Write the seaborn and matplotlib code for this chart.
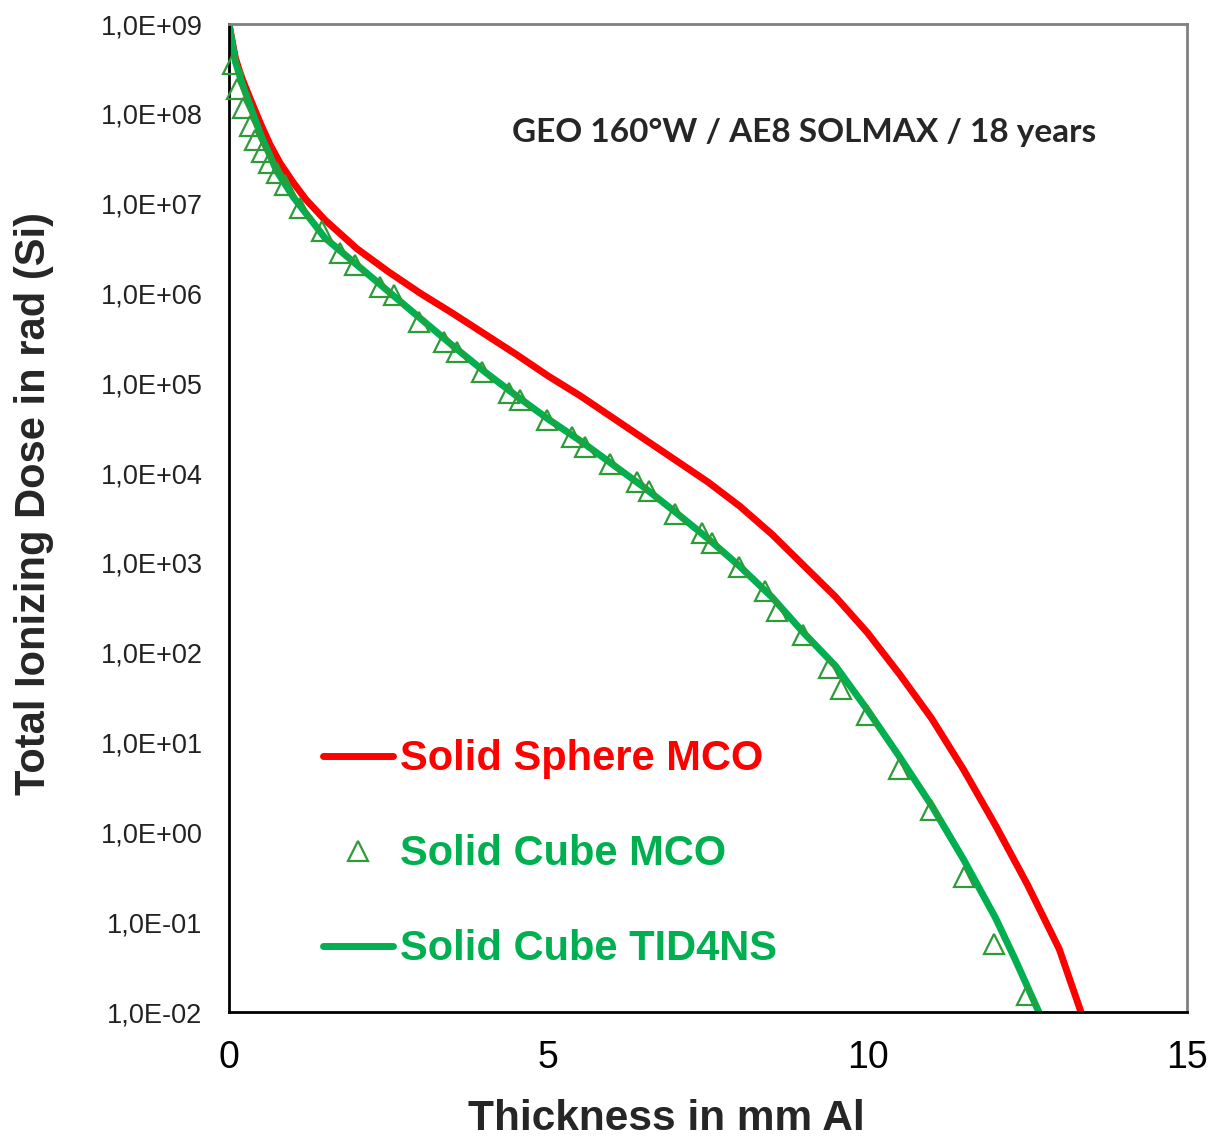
import numpy as np
import pandas as pd
import matplotlib
matplotlib.use('Agg')
import matplotlib.pyplot as plt
import matplotlib.ticker as mticker
from matplotlib.lines import Line2D
import seaborn as sns

# Dose-depth curves (thickness in mm Al, dose as log10 of rad(Si))
sphere_mm = [0.0, 0.1, 0.2, 0.33, 0.5, 0.64, 0.8, 1.0, 1.2, 1.5, 2.0, 2.5, 3.0, 3.5, 4.0, 4.5,
             5.0, 5.5, 6.0, 6.5, 7.0, 7.5, 8.0, 8.5, 9.0, 9.5, 10.0, 10.5, 11.0, 11.5, 12.0,
             12.5, 13.0, 13.34]
sphere_log = [9.0, 8.62, 8.40, 8.17, 7.88, 7.66, 7.45, 7.24, 7.05, 6.82, 6.50, 6.24, 6.00, 5.78,
              5.55, 5.32, 5.08, 4.86, 4.62, 4.38, 4.14, 3.90, 3.63, 3.32, 2.97, 2.62, 2.22, 1.76,
              1.27, 0.70, 0.08, -0.58, -1.30, -2.0]

cube_mm = [0.0, 0.1, 0.2, 0.35, 0.5, 0.75, 1.0, 1.5, 2.0, 2.5, 3.0, 3.5, 4.0, 4.5, 5.0, 5.5, 6.0,
           6.5, 7.0, 7.5, 8.0, 8.5, 9.0, 9.5, 10.0, 10.5, 11.0, 11.5, 12.0, 12.3, 12.68]
cube_log = [9.0, 8.58, 8.35, 8.05, 7.76, 7.36, 7.08, 6.62, 6.32, 6.02, 5.72, 5.42, 5.13, 4.86,
            4.60, 4.36, 4.10, 3.84, 3.56, 3.27, 2.96, 2.62, 2.22, 1.85, 1.36, 0.84, 0.30, -0.30,
            -0.95, -1.40, -2.0]

mco_mm = [0.068, 0.12, 0.22, 0.33, 0.41, 0.51, 0.62, 0.75, 0.88, 1.11, 1.45, 1.74, 1.97, 2.37, 2.58,
          2.97, 3.36, 3.57, 3.96, 4.38, 4.56, 4.98, 5.37, 5.58, 5.97, 6.39, 6.58, 6.99, 7.40, 7.57,
          7.98, 8.40, 8.58, 8.98, 9.39, 9.58, 9.99, 10.49, 10.99, 11.51, 11.98, 12.50]
mco_log = [8.56, 8.28, 8.06, 7.86, 7.71, 7.58, 7.45, 7.34, 7.21, 6.95, 6.69, 6.45, 6.32, 6.07, 5.98,
           5.685, 5.46, 5.35, 5.13, 4.89, 4.81, 4.59, 4.40, 4.29, 4.10, 3.90, 3.80, 3.55, 3.33, 3.22,
           2.96, 2.69, 2.46, 2.20, 1.83, 1.60, 1.31, 0.71, 0.25, -0.50, -1.24, -1.81]

x_ticks = [0, 5, 10, 15]

red = '#FF0000'
green = '#00B050'
tri_green = '#2E9B38'

sphere = pd.DataFrame({'mm': sphere_mm, 'dose': [10 ** v for v in sphere_log]})
cube = pd.DataFrame({'mm': cube_mm, 'dose': [10 ** v for v in cube_log]})
mco = pd.DataFrame({'mm': mco_mm, 'dose': [10 ** v for v in mco_log]})

sns.set_style('white')
plt.rcParams['font.family'] = ['Liberation Sans', 'DejaVu Sans']

fig = plt.figure(figsize=(12.19, 11.37), dpi=100)
ax = fig.add_axes([229 / 1219, 125 / 1137, 958 / 1219, 988 / 1137])

sns.lineplot(data=sphere, x='mm', y='dose', color=red, lw=5, ax=ax, sort=False)
sns.lineplot(data=cube, x='mm', y='dose', color=green, lw=5, ax=ax, sort=False)
ax.plot(mco['mm'], mco['dose'], ls='none', marker='^', ms=15, mfc='none',
        mec=tri_green, mew=1.6, clip_on=False, zorder=5)

ax.set_yscale('log')
ax.set_ylim(1e-2, 1e9)
ax.set_xlim(0, 15)
ax.set_xticks(x_ticks)
ax.xaxis.set_minor_locator(mticker.MultipleLocator(1))
ax.yaxis.set_major_locator(mticker.LogLocator(base=10, numticks=20))
ax.yaxis.set_minor_locator(mticker.LogLocator(base=10, subs=np.arange(2, 10), numticks=20))
ax.yaxis.set_minor_formatter(mticker.NullFormatter())


def sci_comma(v, pos):
    e = int(np.floor(np.log10(v) + 1e-9))
    m = v / 10 ** e
    return f'{m:.1f}E{e:+03d}'.replace('.', ',')


ax.yaxis.set_major_formatter(mticker.FuncFormatter(sci_comma))

for side in ['left', 'bottom']:
    ax.spines[side].set_color('black')
    ax.spines[side].set_linewidth(2)
for side in ['top', 'right']:
    ax.spines[side].set_color('#808080')
    ax.spines[side].set_linewidth(2)

ax.tick_params(axis='x', which='major', direction='inout', length=16, width=2,
               labelsize=27, pad=12, colors='black')
ax.tick_params(axis='x', which='minor', direction='in', length=9, width=2)
ax.tick_params(axis='y', which='major', direction='out', length=8, width=2,
               labelsize=19.5, pad=11)
ax.tick_params(axis='y', which='minor', direction='in', length=5, width=1.5)
for lab in ax.get_yticklabels():
    lab.set_color('#222222')

ax.set_xlabel('Thickness in mm Al', fontsize=30.5, fontweight='bold')
ax.set_ylabel('Total Ionizing Dose in rad (Si)', fontsize=30, fontweight='bold')
ax.xaxis.set_label_coords((666 - 229) / 958, -0.088)
ax.yaxis.set_label_coords(-0.183, 0.515)

ax.text(0.600, 0.890, 'GEO 160°W / AE8 SOLMAX / 18 years', transform=ax.transAxes,
        ha='center', va='center', fontsize=24, fontweight='bold', family=['Lato', 'DejaVu Sans'])

handles = [
    Line2D([], [], color=red, lw=5),
    Line2D([], [], ls='none', marker='^', ms=15, mfc='none', mec=tri_green, mew=1.6),
    Line2D([], [], color=green, lw=5),
]
labels = ['Solid Sphere MCO', 'Solid Cube MCO', 'Solid Cube TID4NS']
leg = ax.legend(handles, labels, loc='upper left', bbox_to_anchor=(0.098, 0.276),
                frameon=False, borderpad=0, borderaxespad=0, handlelength=1.68,
                handletextpad=0.17, labelspacing=1.32,
                prop={'size': 30, 'weight': 'bold'})
for txt, c in zip(leg.get_texts(), [red, green, green]):
    txt.set_color(c)

fig.savefig('out.png', dpi=100)
